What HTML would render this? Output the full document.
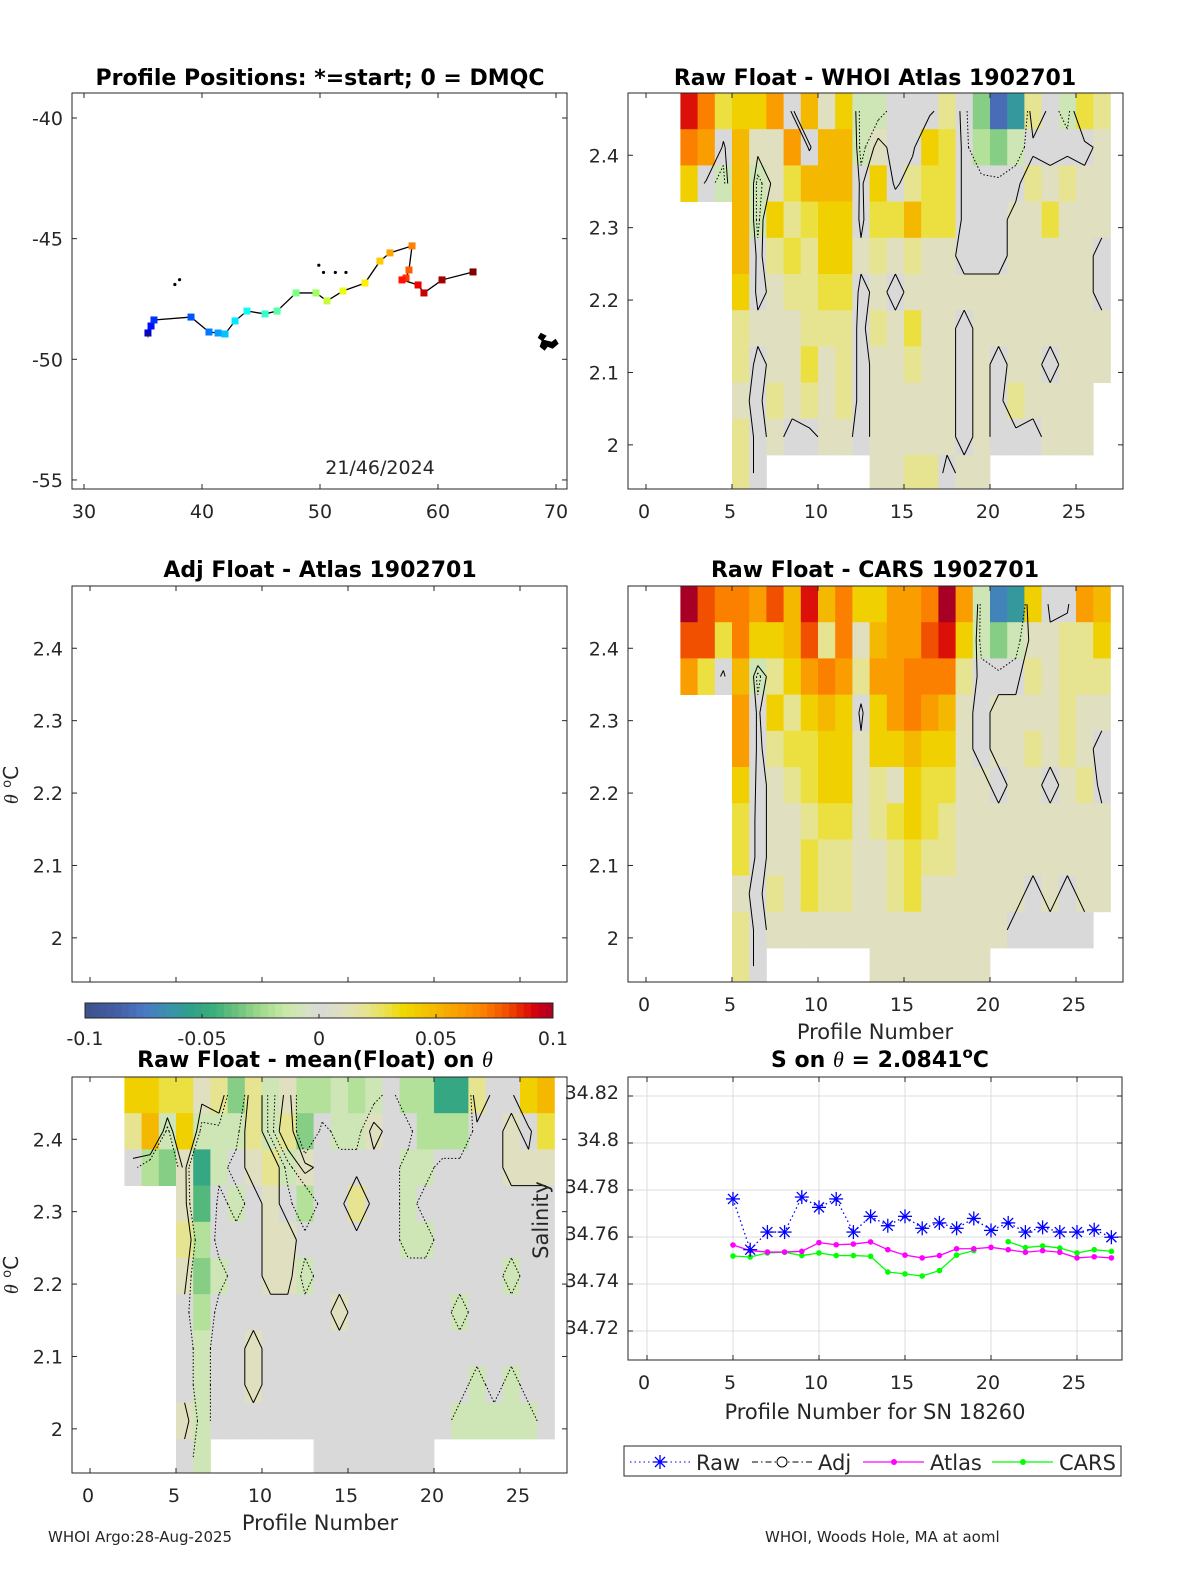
<!DOCTYPE html>
<html><head><meta charset="utf-8">
<style>
html,body{margin:0;padding:0;background:#fff;overflow:hidden;}
svg{display:block;}
svg text{font-family:"DejaVu Sans","Liberation Sans",sans-serif;fill:#262626;}
.t{font-weight:bold;font-size:22px;fill:#000;}
</style></head>
<body>
<svg id="fig" width="1200" height="1575" viewBox="0 0 1200 1575" xmlns="http://www.w3.org/2000/svg">
<rect width="1200" height="1575" fill="#fff"/>
<g id="layer"></g>
<text class="t" x="320" y="85" text-anchor="middle">Profile Positions: *=start; 0 = DMQC</text>
<text class="t" x="875" y="85" text-anchor="middle">Raw Float - WHOI Atlas  1902701</text>
<text class="t" x="320" y="577" text-anchor="middle">Adj Float - Atlas  1902701</text>
<text class="t" x="875" y="577" text-anchor="middle">Raw Float - CARS  1902701</text>
<text class="t" x="315" y="1067" text-anchor="middle">Raw Float - mean(Float) on <tspan font-style="italic" font-weight="normal" font-family="Liberation Serif">θ</tspan></text>
<text class="t" x="880" y="1067" text-anchor="middle">S on <tspan font-style="italic" font-weight="normal" font-family="Liberation Serif">θ</tspan> = 2.0841<tspan dy="-9" font-size="15">o</tspan><tspan dy="9">C</tspan></text>
<text x="380" y="474" font-size="19" text-anchor="middle">21/46/2024</text>
<text x="875" y="1039" font-size="21" text-anchor="middle">Profile Number</text>
<text x="320" y="1530" font-size="21" text-anchor="middle">Profile Number</text>
<text x="875" y="1419" font-size="21" text-anchor="middle">Profile Number for SN 18260</text>
<text transform="translate(18,785) rotate(-90)" font-size="20" text-anchor="middle"><tspan font-style="italic" font-family="Liberation Serif">θ</tspan> <tspan dy="-7" font-size="13">o</tspan><tspan dy="7">C</tspan></text>
<text transform="translate(18,1275) rotate(-90)" font-size="20" text-anchor="middle"><tspan font-style="italic" font-family="Liberation Serif">θ</tspan> <tspan dy="-7" font-size="13">o</tspan><tspan dy="7">C</tspan></text>
<text transform="translate(548,1220) rotate(-90)" font-size="21" text-anchor="middle">Salinity</text>
<text x="48" y="1542" font-size="15" fill="#000">WHOI Argo:28-Aug-2025</text>
<text x="765" y="1542" font-size="15" fill="#000">WHOI, Woods Hole, MA at aoml</text>
</svg>
<script>
// ---------- data ----------
const mapLon=[35.42,35.68,35.93,39.07,40.59,41.36,41.95,42.80,43.81,45.34,46.36,47.97,49.66,50.59,51.95,53.81,55.08,55.93,57.80,57.54,57.29,56.95,58.31,58.81,60.34,62.97];
const mapLat=[-48.91,-48.62,-48.37,-48.25,-48.87,-48.91,-48.95,-48.41,-48.00,-48.12,-48.00,-47.25,-47.25,-47.58,-47.17,-46.84,-45.93,-45.59,-45.30,-46.30,-46.63,-46.71,-46.92,-47.25,-46.71,-46.38];
const mapLonTicks=[30,40,50,60,70];
const mapLatTicks=[-40,-45,-50,-55];
// heat grids: rows top->bottom (theta cells 0.05), cols profiles 2..26 (groups of 5); 'a'=-0.1 .. 'k'=0 .. 'u'=0.1, '.'=NaN
const atlasGrid=[
"trnoo qkplo jjkkk mkhce mkjnm",
"rqkpl lqkpp jlkko nkihj kkkkl",
"okjpj lnppp kokmn nkkkk mlmll",
"...pj omnoo knnpn nkkkl lnlll",
"...pk mnmoo lmlml lkkkl llllk",
"...ok lmmnn klkll lllll llllk",
"...ml llmmm kmlnl lklll lllll",
"...mk llnlm kllml lklkl lklll",
"...lk mlmlm kllll lklkm llll.",
"...mk lkkll kllll lklkk klll.",
"...mk ..... .llmm kll.. ....."];
const carsGrid=[
"usrrq sptpr ooqqr uqjde okkqp",
"ssnro opsmr lpqqs tojhj llmmo",
"qnkpj moqrq mqqrr rmkkk mlmmm",
"...qk omopo koqrq plkll llmll",
"...qk mnnoo loopo olkll mlmlk",
"...ok lmnoo lmlon nllkl lklmk",
"...nk llmnn lmnon mllll lllll",
"...nk llnmm llmnm mllll lllll",
"...lk mlnmm llmnl lllll klkll",
"...mk lllll lllll llllk kkkk.",
"...mk ..... .llll lll.. ....."];
const meanGrid=[
"oonnl mhmjl iijij kiiff mkkop",
"mpjoj jjmjm hkjjl kkiii kklkn",
"kihlf jklmj lkkkk kjjkk kklll",
"...lg kjklk ikkmk kjkkk kkkkk",
"...mi kkkll kkkkk kjjkk kkkkk",
"...lh jkkll jkkkk kkkkk kkjkk",
"...ki kkkkk kklkk kkkkj kkkkk",
"...kj kklkk kkkkk kkkkk kkkkk",
"...kj kklkk kkkkk kkkkk jkjkk",
"...lj kkkkk kkkkk kkkkj jjjjk",
"...kj ..... .kkkk kkk.. ....."];
const contourLevels=[0.005,-0.005];
const profiles=[5,6,7,8,9,10,11,12,13,14,15,16,17,18,19,20,21,22,23,24,25,26,27];
const rawS=[34.7762,34.7546,34.7621,34.7621,34.7770,34.7726,34.7762,34.7621,34.7688,34.7648,34.7688,34.7637,34.7660,34.7637,34.7679,34.7628,34.7660,34.7621,34.7641,34.7621,34.7621,34.7631,34.7599];
const atlasS=[34.7566,34.7542,34.7536,34.7536,34.7539,34.7576,34.7567,34.7570,34.7579,34.7546,34.7523,34.7511,34.7521,34.7550,34.7550,34.7556,34.7546,34.7535,34.7542,34.7535,34.7511,34.7516,34.7511];
const carsS=[34.7519,34.7515,34.7532,34.7535,34.7521,34.7532,34.7521,34.7521,34.7518,34.7451,34.7443,34.7434,34.7457,34.7523,34.7542,null,34.7580,34.7555,34.7562,34.7553,34.7532,34.7546,34.7539];
const profTicks=[0,5,10,15,20,25];
const thetaTicks=[2.4,2.3,2.2,2.1,2];
const salTicks=[34.82,34.8,34.78,34.76,34.74,34.72];
const cbTicks=[-0.1,-0.05,0,0.05,0.1];

// ---------- helpers ----------
const NS="http://www.w3.org/2000/svg";
const layer=document.getElementById('layer');
function mk(tag,at,parent){const e=document.createElementNS(NS,tag);for(const k in at)e.setAttribute(k,at[k]);(parent||layer).appendChild(e);return e;}
const stops=[[-0.1,[61,82,137]],[-0.085,[69,96,168]],[-0.075,[74,120,196]],[-0.065,[58,143,176]],[-0.055,[47,160,138]],[-0.045,[58,174,122]],[-0.035,[108,194,126]],[-0.025,[160,217,140]],[-0.015,[198,232,166]],[-0.005,[214,226,196]],[0,[217,217,217]],[0.01,[224,224,192]],[0.02,[230,228,144]],[0.03,[236,223,64]],[0.035,[238,220,0]],[0.05,[245,184,0]],[0.06,[249,157,0]],[0.07,[251,128,0]],[0.08,[240,80,0]],[0.087,[229,32,0]],[0.093,[208,0,16]],[0.1,[168,0,37]]];
function cmap(v){v=Math.max(-0.1,Math.min(0.1,v));for(let i=1;i<stops.length;i++){if(v<=stops[i][0]){const a=stops[i-1],b=stops[i],t=(v-a[0])/(b[0]-a[0]);const c=a[1].map((x,j)=>Math.round(x+(b[1][j]-x)*t));return `rgb(${c})`;}}return 'rgb(168,0,37)';}
function axBox(L,T,W,H,name){const r=mk('rect',{x:L,y:T,width:W,height:H,fill:'none',stroke:'#262626','stroke-width':1});}
function txt(x,y,s,anchor,name,size){const e=mk('text',{x:x,y:y,'text-anchor':anchor||'middle','font-size':size||19});e.textContent=s;return e;}
function fmt(v){return String(v);}

// ---------- map ----------
(function(){
const L=72,T=93,W=495,H=396;
const sx=lon=>84+(lon-30)*11.8, sy=lat=>118+(-40-lat)*24.13;
[[37.7,-46.9],[38.1,-46.7],[49.9,-46.1],[50.3,-46.4],[51.3,-46.4],[52.2,-46.4]].forEach(p=>{const e=mk('circle',{cx:sx(p[0]),cy:sy(p[1]),r:1.6,fill:'#000'});});
const kg=mk('path',{d:`M${sx(68.7)} ${sy(-48.9)} l6 3 l-3 4 l8 2 l4 -3 l3 5 l-6 5 l-5 -2 l-3 4 l-5 -4 l2 -6 l-4 -3 z`,fill:'#000'});

const pts=mapLon.map((lo,i)=>sx(lo)+','+sy(mapLat[i])).join(' ');
const tr=mk('polyline',{points:pts,fill:'none',stroke:'#000','stroke-width':1.3});

mapLon.forEach((lo,i)=>{const t=0.1+0.9*i/(mapLon.length-1);
 const f=x=>Math.max(0,Math.min(1,x));const r=f(1.5-Math.abs(4*t-3)),g=f(1.5-Math.abs(4*t-2)),b=f(1.5-Math.abs(4*t-1));
 const e=mk('rect',{x:sx(lo)-3.5,y:sy(mapLat[i])-3.5,width:7,height:7,fill:`rgb(${Math.round(r*255)},${Math.round(g*255)},${Math.round(b*255)})`});
 });
const st=mk('text',{x:sx(mapLon[0])-3,y:sy(mapLat[0])+8,'font-size':12,fill:'#0000ff'});st.textContent='*';

axBox(L,T,W,H,'map-axes');
mapLonTicks.forEach(v=>{const x=sx(v);mk('line',{x1:x,y1:T+H,x2:x,y2:T+H-5,stroke:'#262626'});mk('line',{x1:x,y1:T,x2:x,y2:T+5,stroke:'#262626'});txt(x,518,fmt(v),'middle','lon-tick-label');});
mapLatTicks.forEach(v=>{const y=sy(v);mk('line',{x1:L,y1:y,x2:L+5,y2:y,stroke:'#262626'});mk('line',{x1:L+W,y1:y,x2:L+W-5,y2:y,stroke:'#262626'});txt(63,y+7,fmt(v),'end','lat-tick-label');});
})();

// ---------- theta panels ----------
function thetaPanel(L,T,grid,name,xlabels){
const W=495,H=396,x0=L+18,px=17.2,top=2.486,ppt=724;
const sx=p=>x0+p*px, sy=th=>T+(top-th)*ppt;
if(grid){
 const vals=grid.map(rs=>rs.replace(/ /g,'').split('').map(ch=>ch==='.'?null:(ch.charCodeAt(0)-107)*0.01));
 vals.forEach((row,r)=>{row.forEach((v,c)=>{if(v===null)return;const p=c+2;const t1=top-r*0.05;
 const y1=Math.max(T,sy(t1)),y2=Math.min(T+H,sy(t1-0.05));
 const e=mk('rect',{x:sx(p),y:y1,width:px+0.4,height:y2-y1+0.4,fill:cmap(v)});
 });});
 // contours (marching squares on cell centres)
 const cx=c=>sx(c+2.5), cyf=r=>sy(top-0.025-r*0.05);
 contourLevels.forEach((lev,li)=>{let d='';
  for(let r=0;r<vals.length-1;r++)for(let c=0;c<vals[r].length-1;c++){
   const a=vals[r][c],b=vals[r][c+1],e2=vals[r+1][c+1],f=vals[r+1][c];
   if(a==null||b==null||e2==null||f==null)continue;
   const corners=[[cx(c),cyf(r),a],[cx(c+1),cyf(r),b],[cx(c+1),cyf(r+1),e2],[cx(c),cyf(r+1),f]];
   const pts=[];
   for(let k=0;k<4;k++){const P=corners[k],Q=corners[(k+1)%4];
    if((P[2]-lev)*(Q[2]-lev)<0){const t=(lev-P[2])/(Q[2]-P[2]);pts.push([P[0]+(Q[0]-P[0])*t,P[1]+(Q[1]-P[1])*t]);}}
   for(let k=0;k+1<pts.length;k+=2)d+=`M${pts[k][0].toFixed(1)} ${pts[k][1].toFixed(1)}L${pts[k+1][0].toFixed(1)} ${pts[k+1][1].toFixed(1)}`;
  }
  if(d){const e=mk('path',{d:d,fill:'none',stroke:'#000','stroke-width':1,'stroke-dasharray':li===0?'none':'1.5 2'});
  }
 });
}
axBox(L,T,W,H,name+'-axes');
profTicks.forEach(v=>{const x=sx(v);mk('line',{x1:x,y1:T+H,x2:x,y2:T+H-5,stroke:'#262626'});mk('line',{x1:x,y1:T,x2:x,y2:T+5,stroke:'#262626'});if(xlabels)txt(x-2,T+H+29,fmt(v),'middle',name+'-x-tick-label');});
thetaTicks.forEach(v=>{const y=sy(v);mk('line',{x1:L,y1:y,x2:L+5,y2:y,stroke:'#262626'});mk('line',{x1:L+W,y1:y,x2:L+W-5,y2:y,stroke:'#262626'});txt(L-9,y+7,fmt(v),'end',name+'-y-tick-label');});
}
thetaPanel(628,93,atlasGrid,'atlas-heatmap',true);
thetaPanel(72,586,null,'adj-heatmap',false);
thetaPanel(628,586,carsGrid,'cars-heatmap',true);
thetaPanel(72,1077,meanGrid,'mean-heatmap',true);

// ---------- colorbar ----------
(function(){
const L=85,T=1003,W=468,H=15,sx=v=>L+(v+0.1)/0.2*W;
for(let i=0;i<64;i++){const v0=-0.1+i*0.2/64;const e=mk('rect',{x:sx(v0),y:T,width:W/64+0.5,height:H,fill:cmap(v0+0.2/128)});}
axBox(L,T,W,H,'colorbar');
cbTicks.forEach(v=>{const x=sx(v);mk('line',{x1:x,y1:T+H,x2:x,y2:T+H-4,stroke:'#262626'});txt(x,1045,fmt(v),'middle','colorbar-tick-label');});
})();

// ---------- salinity line chart ----------
(function(){
const L=628,T=1077,W=494,H=283;
const sx=p=>647+p*17.2, sy=s=>1190+(34.78-s)*2350;
profTicks.forEach(v=>{const x=sx(v);const g=mk('line',{x1:x,y1:T,x2:x,y2:T+H,stroke:'#dcdcdc'});
 mk('line',{x1:x,y1:T+H,x2:x,y2:T+H-5,stroke:'#262626'});mk('line',{x1:x,y1:T,x2:x,y2:T+5,stroke:'#262626'});txt(x-3,T+H+29,fmt(v),'middle','salinity-x-tick-label');});
salTicks.forEach(v=>{const y=sy(v);const g=mk('line',{x1:L,y1:y,x2:L+W,y2:y,stroke:'#dcdcdc'});
 mk('line',{x1:L,y1:y,x2:L+5,y2:y,stroke:'#262626'});mk('line',{x1:L+W,y1:y,x2:L+W-5,y2:y,stroke:'#262626'});txt(L-9,y+3,fmt(v),'end','salinity-y-tick-label');});
function series(vals,color,name,dash,marker){
 let segs=[],cur=[];vals.forEach((v,i)=>{if(v===null){if(cur.length)segs.push(cur);cur=[];}else cur.push(sx(profiles[i])+','+sy(v));});if(cur.length)segs.push(cur);
 segs.forEach(s=>{const e=mk('polyline',{points:s.join(' '),fill:'none',stroke:color,'stroke-width':1.3,'stroke-dasharray':dash||'none'});});
 vals.forEach((v,i)=>{if(v===null)return;const x=sx(profiles[i]),y=sy(v);
  if(marker==='star'){const g=mk('g',{stroke:color,'stroke-width':1.3});
   mk('line',{x1:x-7,y1:y,x2:x+7,y2:y},g);mk('line',{x1:x,y1:y-7,x2:x,y2:y+7},g);mk('line',{x1:x-5,y1:y-5,x2:x+5,y2:y+5},g);mk('line',{x1:x-5,y1:y+5,x2:x+5,y2:y-5},g);}
  else{const e=mk('circle',{cx:x,cy:y,r:2.8,fill:color});}});
}
series(carsS,'#00ff00','cars');
series(atlasS,'#ff00ff','atlas');
series(rawS,'#0000ff','raw','1.5 3','star');
axBox(L,T,W,H,'salinity-axes');
const lg=mk('g',{});
mk('rect',{x:624,y:1446,width:497,height:30,fill:'#fff',stroke:'#262626'},lg);
const cy=1462;
mk('line',{x1:630,y1:cy,x2:690,y2:cy,stroke:'#0000ff','stroke-dasharray':'1.5 3'},lg);
const sg=mk('g',{stroke:'#0000ff','stroke-width':1.3},lg);mk('line',{x1:653,y1:cy,x2:667,y2:cy},sg);mk('line',{x1:660,y1:cy-7,x2:660,y2:cy+7},sg);mk('line',{x1:655,y1:cy-5,x2:665,y2:cy+5},sg);mk('line',{x1:655,y1:cy+5,x2:665,y2:cy-5},sg);
let t=txt(696,cy+8,'Raw','start','legend-raw',21);lg.appendChild(t);
mk('line',{x1:752,y1:cy,x2:812,y2:cy,stroke:'#000','stroke-dasharray':'6 3 1.5 3'},lg);
mk('circle',{cx:782,cy:cy,r:5,fill:'#fff',stroke:'#000'},lg);
t=txt(818,cy+8,'Adj','start','legend-adj',21);lg.appendChild(t);
mk('line',{x1:863,y1:cy,x2:924,y2:cy,stroke:'#ff00ff','stroke-width':1.3},lg);mk('circle',{cx:894,cy:cy,r:3,fill:'#ff00ff'},lg);
t=txt(930,cy+8,'Atlas','start','legend-atlas',21);lg.appendChild(t);
mk('line',{x1:992,y1:cy,x2:1053,y2:cy,stroke:'#00ff00','stroke-width':1.3},lg);mk('circle',{cx:1023,cy:cy,r:3,fill:'#00ff00'},lg);
t=txt(1059,cy+8,'CARS','start','legend-cars',21);lg.appendChild(t);
})();
</script>
</body></html>
